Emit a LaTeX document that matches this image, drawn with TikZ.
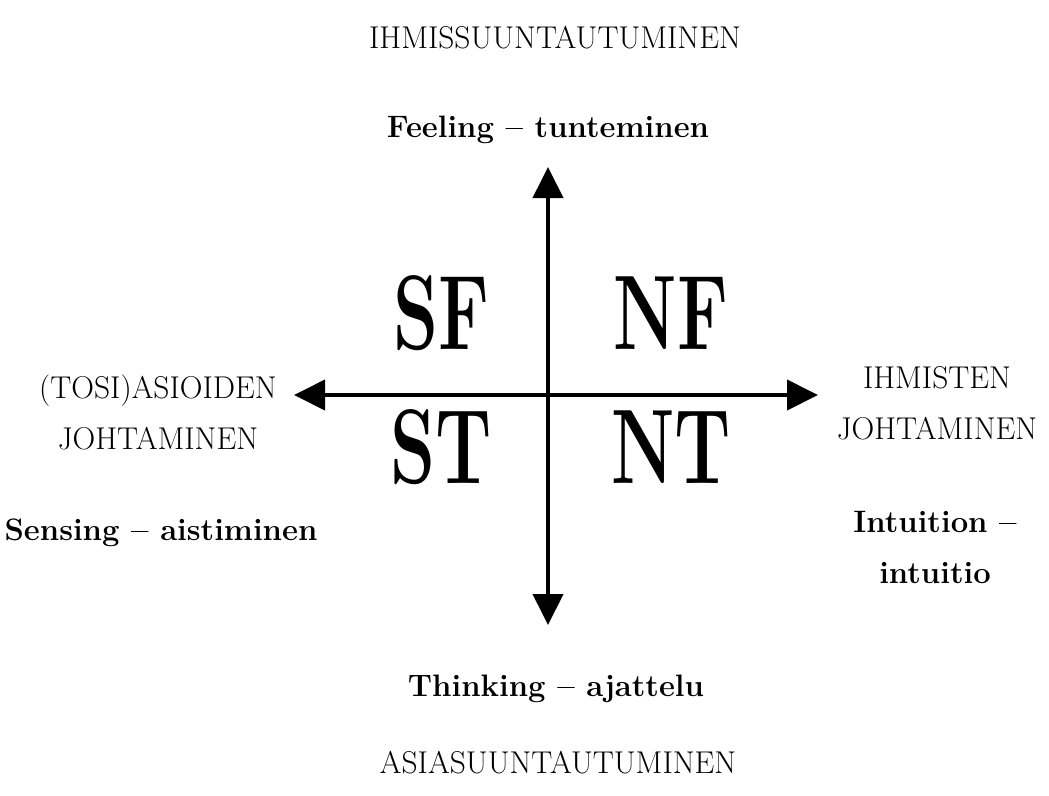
\documentclass[tikz,border=0pt]{standalone}
\usepackage{fontspec}
\usetikzlibrary{arrows.meta}
\begin{document}
\begin{tikzpicture}[x=1pt,y=-1pt,
  lbl/.style={font=\fontsize{31.5}{51}\selectfont, align=center, inner sep=0pt},
  blbl/.style={font=\fontsize{31}{51}\selectfont\bfseries, align=center, inner sep=0pt},
  quad/.style={font=\fontsize{106}{110}\selectfont\bfseries, xscale=0.68, inner sep=0pt},
  axis/.style={line width=4pt, {Triangle[length=31pt,width=30pt]}-{Triangle[length=31pt,width=30pt]}}]
\useasboundingbox (0,0) rectangle (1049,795);
\coordinate (c) at (548,395);
\coordinate (top) at (548,167);
\coordinate (bot) at (548,625);
\coordinate (lft) at (294,395);
\coordinate (rgt) at (818,395);
\draw[axis] (top) -- (bot);
\draw[axis] (lft) -- (rgt);
\node[lbl] (ihm) at (555,38) {IHMISSUUNTAUTUMINEN};
\node[blbl] (feel) at (548,130) {Feeling – tunteminen};
\node[quad] (sf) at (441,313) {SF};
\node[quad] (nf) at (671,313) {NF};
\node[quad] (st) at (441,447) {ST};
\node[quad] (nt) at (671,447) {NT};
\node[lbl] (tosi) at (158,412) {(TOSI)ASIOIDEN\\JOHTAMINEN};
\node[blbl] (sens) at (161,533) {Sensing – aistiminen};
\node[lbl] (ihj) at (937,403) {IHMISTEN\\JOHTAMINEN};
\node[blbl] (intu) at (935,547) {Intuition –\\intuitio};
\node[blbl] (think) at (556,689) {Thinking – ajattelu};
\node[lbl] (asia) at (558,763) {ASIASUUNTAUTUMINEN};
\end{tikzpicture}
\end{document}
